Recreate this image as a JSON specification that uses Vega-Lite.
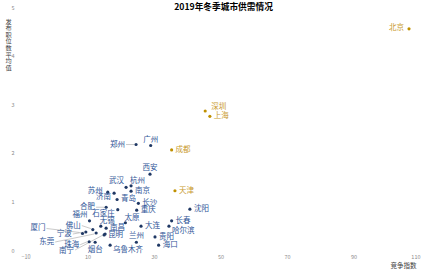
{
  "$schema": "https://vega.github.io/schema/vega-lite/v6.json",
  "width": 399,
  "height": 243,
  "autosize": "none",
  "padding": {"left": 21, "top": 7, "right": 8, "bottom": 22},
  "background": "white",
  "title": {"text": "2019年冬季城市供需情况", "fontSize": 8.7, "fontWeight": "bold", "font": "Noto Sans CJK SC", "color": "#000000", "anchor": "middle", "frame": "group", "baseline": "middle", "offset": -2, "dx": 3, "dy": 9},
  "config": {
    "view": {"stroke": null},
    "font": "Noto Sans CJK SC",
    "axis": {"grid": false, "domain": false, "ticks": false, "labelFont": "Noto Sans CJK SC", "labelFontSize": 5.5, "labelColor": "#8C8C8C", "titleFont": "Noto Sans CJK SC", "titleFontWeight": "normal", "titleColor": "#404040", "titleFontSize": 6.5}
  },
  "data": {"values": [
    {"city": "北京", "x": 106.7, "y": 4.55},
    {"city": "深圳", "x": 45.4, "y": 2.86},
    {"city": "上海", "x": 46.8, "y": 2.75},
    {"city": "成都", "x": 35.3, "y": 2.06},
    {"city": "天津", "x": 36.3, "y": 1.22},
    {"city": "广州", "x": 29.0, "y": 2.15},
    {"city": "郑州", "x": 24.6, "y": 2.17},
    {"city": "西安", "x": 28.8, "y": 1.56},
    {"city": "武汉", "x": 21.6, "y": 1.29},
    {"city": "杭州", "x": 23.1, "y": 1.32},
    {"city": "南京", "x": 23.1, "y": 1.21},
    {"city": "苏州", "x": 16.1, "y": 1.19},
    {"city": "济南", "x": 18.0, "y": 1.17},
    {"city": "青岛", "x": 18.9, "y": 1.04},
    {"city": "合肥", "x": 15.6, "y": 0.88},
    {"city": "长沙", "x": 25.3, "y": 0.96},
    {"city": "石家庄", "x": 19.1, "y": 0.83},
    {"city": "重庆", "x": 24.8, "y": 0.82},
    {"city": "沈阳", "x": 40.8, "y": 0.84},
    {"city": "福州", "x": 10.6, "y": 0.60},
    {"city": "太原", "x": 21.4, "y": 0.56},
    {"city": "大连", "x": 26.1, "y": 0.49},
    {"city": "长春", "x": 35.3, "y": 0.60},
    {"city": "哈尔滨", "x": 34.5, "y": 0.49},
    {"city": "无锡", "x": 14.0, "y": 0.49},
    {"city": "南昌", "x": 15.6, "y": 0.45},
    {"city": "佛山", "x": 11.6, "y": 0.42},
    {"city": "厦门", "x": 8.5, "y": 0.34},
    {"city": "宁波", "x": 9.5, "y": 0.37},
    {"city": "东莞", "x": 12.6, "y": 0.35},
    {"city": "南宁", "x": 15.3, "y": 0.33},
    {"city": "昆明", "x": 15.0, "y": 0.31},
    {"city": "珠海", "x": 10.5, "y": 0.17},
    {"city": "烟台", "x": 12.3, "y": 0.16},
    {"city": "乌鲁木齐", "x": 16.8, "y": 0.10},
    {"city": "兰州", "x": 24.7, "y": 0.16},
    {"city": "贵阳", "x": 30.3, "y": 0.27},
    {"city": "海口", "x": 31.4, "y": 0.10}
  ]},
  "encoding": {
    "x": {"field": "x", "type": "quantitative", "scale": {"domain": [-10, 110], "nice": false}, "axis": {"values": [-10, 10, 30, 50, 70, 90, 110], "labelPadding": 4, "labelBaseline": "top", "title": "竞争指数", "titleX": 382, "titleY": 15, "titleAlign": "center", "titleBaseline": "middle"}},
    "y": {"field": "y", "type": "quantitative", "scale": {"domain": [0, 5], "nice": false}, "axis": {"values": [0, 1, 2, 3, 4, 5], "labelPadding": 7, "title": ["发", "布", "职", "位", "数", "平", "均", "值"], "titleAngle": 0, "titleX": -13, "titleY": 11, "titleAlign": "center", "titleBaseline": "top", "titleFontSize": 6.2, "titleLineHeight": 6.6}},
    "color": {"condition": {"test": "datum.x > 35 && datum.y > 1", "value": "#C99A2E"}, "value": "#2F5597"}
  },
  "layer": [
    {
      "data": {"values": [{}]},
      "mark": {"type": "rule", "strokeWidth": 1},
      "encoding": {"y": {"datum": 1}, "x": {"value": 0}, "x2": {"value": 399}, "color": {"value": "#D9D9D9"}}
    },
    {
      "data": {"values": [{}]},
      "mark": {"type": "rule", "strokeWidth": 1},
      "encoding": {"x": {"datum": 35}, "y": {"value": 0}, "y2": {"value": 243}, "color": {"value": "#D9D9D9"}}
    },
    {
      "transform": [{"filter": {"field": "city", "oneOf": ["郑州", "合肥"]}}],
      "mark": {"type": "rule", "strokeWidth": 0.6, "xOffset": -2, "x2Offset": -10},
      "encoding": {"x2": {"field": "x"}, "y2": {"field": "y"}, "color": {"value": "#A6A6A6"}}
    },
    {
      "transform": [{"filter": {"field": "city", "oneOf": ["佛山"]}}],
      "mark": {"type": "rule", "strokeWidth": 0.6, "xOffset": -2, "yOffset": -1, "x2Offset": -11, "y2Offset": -4},
      "encoding": {"x2": {"field": "x"}, "y2": {"field": "y"}, "color": {"value": "#A6A6A6"}}
    },
    {
      "transform": [{"filter": {"field": "city", "oneOf": ["宁波"]}}],
      "mark": {"type": "rule", "strokeWidth": 0.6, "xOffset": -2, "yOffset": 0, "x2Offset": -13, "y2Offset": 2},
      "encoding": {"x2": {"field": "x"}, "y2": {"field": "y"}, "color": {"value": "#A6A6A6"}}
    },
    {
      "transform": [{"filter": {"field": "city", "oneOf": ["珠海"]}}],
      "mark": {"type": "rule", "strokeWidth": 0.6, "xOffset": -2, "yOffset": 0, "x2Offset": -9, "y2Offset": 3},
      "encoding": {"x2": {"field": "x"}, "y2": {"field": "y"}, "color": {"value": "#A6A6A6"}}
    },
    {
      "transform": [{"filter": {"field": "city", "oneOf": ["厦门"]}}],
      "mark": {"type": "rule", "strokeWidth": 0.6, "xOffset": -3, "yOffset": -1, "x2Offset": -36, "y2Offset": -5},
      "encoding": {"x2": {"field": "x"}, "y2": {"field": "y"}, "color": {"value": "#A6A6A6"}}
    },
    {
      "transform": [{"filter": {"field": "city", "oneOf": ["东莞"]}}],
      "mark": {"type": "rule", "strokeWidth": 0.6, "xOffset": -2, "yOffset": 1, "x2Offset": -41, "y2Offset": 9},
      "encoding": {"x2": {"field": "x"}, "y2": {"field": "y"}, "color": {"value": "#A6A6A6"}}
    },
    {
      "transform": [{"filter": {"field": "city", "oneOf": ["南宁"]}}],
      "mark": {"type": "rule", "strokeWidth": 0.6, "xOffset": -2, "yOffset": 1, "x2Offset": -30, "y2Offset": 16},
      "encoding": {"x2": {"field": "x"}, "y2": {"field": "y"}, "color": {"value": "#A6A6A6"}}
    },
    {
      "mark": {"type": "circle", "size": 10, "opacity": 1},
      "encoding": {
        "color": {"condition": {"test": "datum.x > 35 && datum.y > 1", "value": "#BF9000"}, "value": "#1F3864"}
      }
    },
    {
      "transform": [{"filter": {"field": "city", "oneOf": ["上海", "成都", "天津", "南京", "青岛", "长沙", "重庆", "沈阳", "长春", "大连", "南昌", "贵阳", "海口", "昆明"]}}],
      "mark": {"type": "text", "align": "left", "baseline": "middle", "dx": 4, "dy": 0, "fontSize": 7.5},
      "encoding": {"text": {"field": "city"}}
    },
    {
      "transform": [{"filter": {"field": "city", "oneOf": ["深圳"]}}],
      "mark": {"type": "text", "align": "left", "baseline": "middle", "dx": 6, "dy": -4, "fontSize": 7.5},
      "encoding": {"text": {"field": "city"}}
    },
    {
      "transform": [{"filter": {"field": "city", "oneOf": ["北京", "苏州"]}}],
      "mark": {"type": "text", "align": "right", "baseline": "middle", "dx": -5, "dy": -1, "fontSize": 7.5},
      "encoding": {"text": {"field": "city"}}
    },
    {
      "transform": [{"filter": {"field": "city", "oneOf": ["郑州", "合肥"]}}],
      "mark": {"type": "text", "align": "right", "baseline": "middle", "dx": -11, "dy": 0, "fontSize": 7.5},
      "encoding": {"text": {"field": "city"}}
    },
    {
      "transform": [{"filter": {"field": "city", "oneOf": ["佛山"]}}],
      "mark": {"type": "text", "align": "right", "baseline": "middle", "dx": -12, "dy": -4, "fontSize": 7.5},
      "encoding": {"text": {"field": "city"}}
    },
    {
      "transform": [{"filter": {"field": "city", "oneOf": ["宁波"]}}],
      "mark": {"type": "text", "align": "right", "baseline": "middle", "dx": -14, "dy": 2, "fontSize": 7.5},
      "encoding": {"text": {"field": "city"}}
    },
    {
      "transform": [{"filter": {"field": "city", "oneOf": ["珠海"]}}],
      "mark": {"type": "text", "align": "right", "baseline": "middle", "dx": -10, "dy": 3, "fontSize": 7.5},
      "encoding": {"text": {"field": "city"}}
    },
    {
      "transform": [{"filter": {"field": "city", "oneOf": ["广州", "西安", "兰州"]}}],
      "mark": {"type": "text", "align": "center", "baseline": "middle", "dx": 0, "dy": -6, "fontSize": 7.5},
      "encoding": {"text": {"field": "city"}}
    },
    {
      "transform": [{"filter": {"field": "city", "oneOf": ["福州", "武汉"]}}],
      "mark": {"type": "text", "align": "right", "baseline": "middle", "dx": -2, "dy": -6, "fontSize": 7.5},
      "encoding": {"text": {"field": "city"}}
    },
    {
      "transform": [{"filter": {"field": "city", "oneOf": ["杭州", "太原", "无锡"]}}],
      "mark": {"type": "text", "align": "left", "baseline": "middle", "dx": -1, "dy": -5, "fontSize": 7.5},
      "encoding": {"text": {"field": "city"}}
    },
    {
      "transform": [{"filter": {"field": "city", "oneOf": ["哈尔滨", "乌鲁木齐"]}}],
      "mark": {"type": "text", "align": "left", "baseline": "middle", "dx": 3, "dy": 5, "fontSize": 7.5},
      "encoding": {"text": {"field": "city"}}
    },
    {
      "transform": [{"filter": {"field": "city", "oneOf": ["济南", "石家庄"]}}],
      "mark": {"type": "text", "align": "right", "baseline": "middle", "dx": -3, "dy": 4, "fontSize": 7.5},
      "encoding": {"text": {"field": "city"}}
    },
    {
      "transform": [{"filter": {"field": "city", "oneOf": ["烟台"]}}],
      "mark": {"type": "text", "align": "center", "baseline": "middle", "dx": 0, "dy": 8, "fontSize": 7.5},
      "encoding": {"text": {"field": "city"}}
    },
    {
      "transform": [{"filter": {"field": "city", "oneOf": ["厦门"]}}],
      "mark": {"type": "text", "align": "right", "baseline": "middle", "dx": -37, "dy": -5, "fontSize": 7.5},
      "encoding": {"text": {"field": "city"}}
    },
    {
      "transform": [{"filter": {"field": "city", "oneOf": ["东莞"]}}],
      "mark": {"type": "text", "align": "right", "baseline": "middle", "dx": -42, "dy": 9, "fontSize": 7.5},
      "encoding": {"text": {"field": "city"}}
    },
    {
      "transform": [{"filter": {"field": "city", "oneOf": ["南宁"]}}],
      "mark": {"type": "text", "align": "right", "baseline": "middle", "dx": -31, "dy": 17, "fontSize": 7.5},
      "encoding": {"text": {"field": "city"}}
    }
  ]
}
